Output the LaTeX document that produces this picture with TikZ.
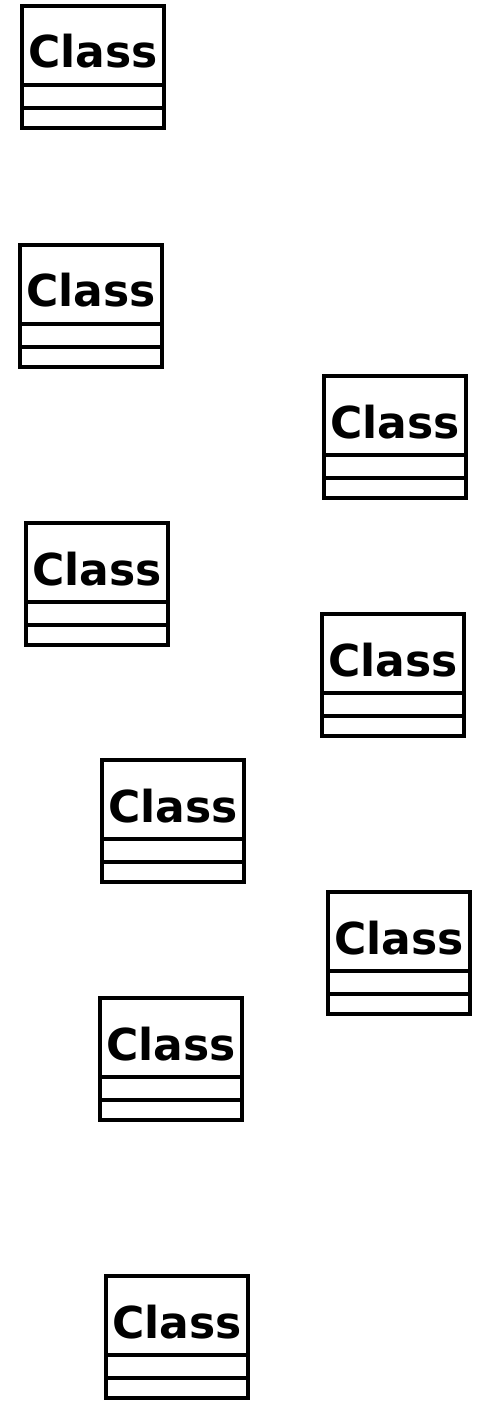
\documentclass[tikz,border=0pt]{standalone}
\usepackage{fontspec}
\setmainfont{DejaVu Sans}
\begin{document}
\begin{tikzpicture}[x=1pt,y=1pt,
  classbox/.style={draw=black, line width=4.5pt, minimum width=142pt, minimum height=122pt, inner sep=0pt, outer sep=0pt, anchor=north west},
  classname/.style={anchor=base, inner sep=0pt, font=\bfseries\fontsize{44}{44}\selectfont},
  sep/.style={line width=4.5pt}]
\useasboundingbox (0,0) rectangle (482,-1404);
\newcommand{\umlclass}[3]{%
  \node[classbox] (#1) at (#2,-#3) {};
  \node[classname] (#1n) at ([yshift=-62pt]#1.north) {Class};
  \draw[sep] ([yshift=-79pt]#1.north west) -- ([yshift=-79pt]#1.north east);
  \draw[sep] ([yshift=-102pt]#1.north west) -- ([yshift=-102pt]#1.north east);
}
\umlclass{c1}{22}{6}
\umlclass{c2}{20}{245}
\umlclass{c3}{324}{376}
\umlclass{c4}{26}{523}
\umlclass{c5}{322}{614}
\umlclass{c6}{102}{760}
\umlclass{c7}{328}{892}
\umlclass{c8}{100}{998}
\umlclass{c9}{106}{1276}
\end{tikzpicture}
\end{document}
